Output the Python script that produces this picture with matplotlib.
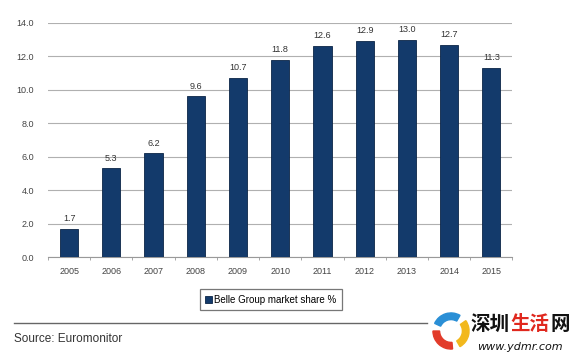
import matplotlib.pyplot as plt
import numpy as np
from matplotlib.patches import Wedge

years = ['2005', '2006', '2007', '2008', '2009', '2010',
         '2011', '2012', '2013', '2014', '2015']
share = [1.7, 5.3, 6.2, 9.6, 10.7, 11.8, 12.6, 12.9, 13.0, 12.7, 11.3]
y_ticks = [0, 2, 4, 6, 8, 10, 12, 14]

plt.rcParams['font.family'] = ['Liberation Sans Narrow', 'Liberation Sans', 'DejaVu Sans']

fig = plt.figure(figsize=(5.82, 3.58), dpi=100)
ax = fig.add_axes([0.0825, 0.282, 0.798, 0.654])

x = np.arange(len(years))
ax.bar(x, share, width=0.43, color='#133a6b', edgecolor='#0b2547',
       linewidth=0.6, zorder=3, label='Belle Group market share %')
for xi, v in zip(x, share):
    ax.text(xi, v + 0.35, f'{v:.1f}', ha='center', va='bottom',
            fontsize=6.5, color='#333333')

ax.set_xlim(-0.5, len(years) - 0.5)
ax.set_ylim(0, 14)
ax.set_yticks(y_ticks)
ax.set_yticklabels([f'{t:.1f}' for t in y_ticks], fontsize=6.5, color='#444444')
ax.set_xticks(x)
ax.set_xticklabels(years, fontsize=6.5, color='#444444')
ax.tick_params(axis='y', length=0, pad=10)
ax.tick_params(axis='x', length=0, pad=7)
ax.set_xticks(np.arange(-0.5, len(years), 1), minor=True)
ax.tick_params(axis='x', which='minor', length=2, color='#999999')
ax.grid(axis='y', color='#b0b0b0', linewidth=0.8, zorder=0)
for s in ['top', 'right', 'left']:
    ax.spines[s].set_visible(False)
ax.spines['bottom'].set_color('#999999')

leg = ax.legend(loc='upper center', bbox_to_anchor=(0.48, -0.115), frameon=True,
                fancybox=False, fontsize=7, handlelength=0.7, handleheight=0.7,
                handletextpad=0.2, borderpad=0.6)
leg.get_frame().set_edgecolor('#555555')
leg.get_frame().set_linewidth(0.9)

fig.add_artist(plt.Line2D([14 / 582, 427 / 582], [1 - 323 / 358, 1 - 323 / 358],
                          color='#666666', linewidth=1.0))
fig.text(14 / 582, 1 - 339 / 358, 'Source: Euromonitor', fontsize=8.5,
         color='#333333', va='center', family=['Liberation Sans', 'DejaVu Sans'])

# watermark logo + text
logo = fig.add_axes([432 / 582, 1 - 350 / 358, 38 / 582, 38 / 358])
logo.set_xlim(-1, 1)
logo.set_ylim(-1, 1)
logo.set_aspect('equal')
logo.axis('off')
for th, col in [(60, '#2a8fd6'), (180, '#e23b2a'), (300, '#f2b81c')]:
    logo.add_patch(Wedge((0, 0), 0.95, th, th + 95, width=0.35, color=col))

cjk = ['Noto Sans CJK SC', 'DejaVu Sans']
fig.text(470 / 582, 1 - 324 / 358, '深圳', fontsize=14, fontweight='bold',
         color='#111111', va='center', family=cjk)
fig.text(510 / 582, 1 - 324 / 358, '生活', fontsize=14, fontweight='bold',
         color='#e0281e', va='center', family=cjk)
fig.text(550 / 582, 1 - 324 / 358, '网', fontsize=14, fontweight='bold',
         color='#111111', va='center', family=cjk)
fig.text(477 / 582, 1 - 347 / 358, 'www.ydmr.com', fontsize=8, style='italic',
         color='#111111', va='center', family=['DejaVu Sans'])

fig.savefig('out.png', dpi=100)
